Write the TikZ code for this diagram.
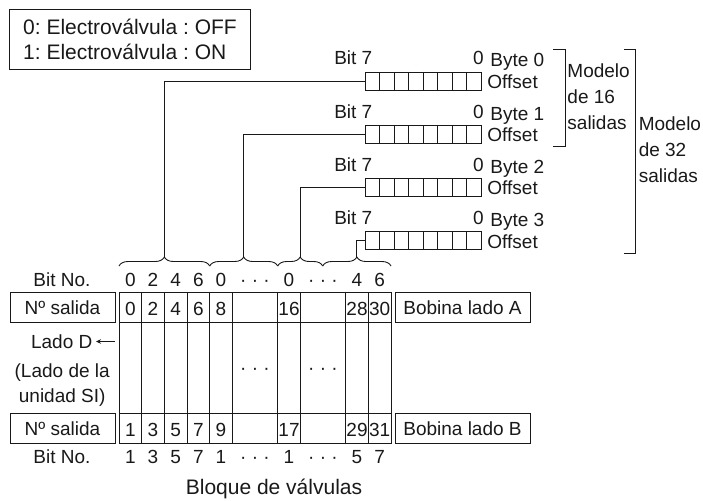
\documentclass[tikz,border=0pt]{standalone}
\usepackage{fontspec}
\setmainfont{Liberation Sans}
\frenchspacing
\usetikzlibrary{arrows.meta, positioning, decorations.pathreplacing}

\begin{document}
\begin{tikzpicture}[x=1pt, y=-1pt, line width=0.9pt, black!90,
  txt/.style={font=\fontsize{19}{22}\selectfont, inner sep=0pt, anchor=base},
  lbox/.style={draw, minimum width=105pt, minimum height=30pt, inner sep=0pt, font=\fontsize{19}{22}\selectfont},
  rbox/.style={draw, minimum width=135pt, minimum height=30pt, inner sep=0pt, font=\fontsize{19}{22}\selectfont},
  reg/.style={draw, minimum width=116pt, minimum height=18pt, inner sep=0pt},
  brc/.style={decorate, decoration={brace, amplitude=9pt}}
]
  \useasboundingbox (0,0) rectangle (703,500);

  % legend
  \node[draw, minimum width=241.4pt, minimum height=60pt, align=left, inner sep=0pt,
    font=\fontsize{21}{25}\selectfont] (legend) at (130,39.3) {0: Electroválvula : OFF\\1: Electroválvula : ON};

  % byte registers
  \foreach \b/\yc in {0/81,1/134.3,2/187.6,3/240.9} {
    \node[reg] (reg\b) at (423,\yc) {};
    \foreach \c in {1,...,7}
      \draw (365+\c*14.5,\yc-9) -- (365+\c*14.5,\yc+9);
    \node[txt] (hi\b) at (353.3,\yc-16) {Bit 7};
    \node[txt] (lo\b) at (478.3,\yc-16) {0};
    \node[txt, anchor=base west] (byte\b) at (490,\yc-14) {Byte \b};
    \node[txt, anchor=base west] (off\b) at (487,\yc+7.3) {Offset};
  }

  % model brackets
  \draw (553,49.3) -- (565,49.3) -- (565,146.7) -- (553,146.7);
  \draw (624,49.3) -- (635,49.3) -- (635,253.3) -- (624,253.3);
  \node[align=left, anchor=north west, inner sep=0pt, font=\fontsize{19}{26.4}\selectfont] (m16) at (567,62.8) {Modelo\\de 16\\salidas};
  \node[align=left, anchor=north west, inner sep=0pt, font=\fontsize{19}{26}\selectfont] (m32) at (638.3,116.3) {Modelo\\de 32\\salidas};

  % braces over the valve block
  \draw[brc] (119,266) -- (209.7,266);
  \draw[brc] (209.7,266) -- (277.7,266);
  \draw[brc] (277.7,266) -- (322.7,266);
  \draw[brc] (322.7,266) -- (391,266);
  \coordinate (tip0) at (164.3,257);
  \coordinate (tip1) at (243.7,257);
  \coordinate (tip2) at (300.2,257);
  \coordinate (tip3) at (356.8,257);
  \foreach \b in {0,...,3}
    \draw (tip\b) |- (reg\b.west);

  % valve block grid
  \draw (119,292.7) rectangle (391,443.3);
  \draw (119,322.7) -- (391,322.7);
  \draw (119,413.3) -- (391,413.3);
  \foreach \k in {1,2,3,4,5,7,8,10,11}
    \draw (119+\k*22.667,292.7) -- (119+\k*22.667,443.3);

  \node[lbox] (salA) at (62.5,307.7) {Nº salida};
  \node[lbox] (salB) at (62.5,428.3) {Nº salida};
  \node[rbox] (bobA) at (462.5,307.7) {Bobina lado A};
  \node[rbox] (bobB) at (462.5,428.3) {Bobina lado B};

  % bit and output numbers
  \node[txt] (bitA) at (62,286.7) {Bit No.};
  \node[txt] (bitB) at (62,463.3) {Bit No.};
  \foreach \k/\t in {0/0,1/2,2/4,3/6,4/0,7/0,10/4,11/6}
    \node[txt] (ta\k) at (130.33+\k*22.667,286.7) {\t};
  \foreach \k/\t in {0/1,1/3,2/5,3/7,4/1,7/1,10/5,11/7}
    \node[txt] (tb\k) at (130.33+\k*22.667,463.3) {\t};
  \foreach \k/\t in {0/0,1/2,2/4,3/6,4/8,7/16,10/28,11/30}
    \node[txt] (na\k) at (130.33+\k*22.667,315) {\t};
  \foreach \k/\t in {0/1,1/3,2/5,3/7,4/9,7/17,10/29,11/31}
    \node[txt] (nb\k) at (130.33+\k*22.667,436) {\t};
  \foreach \x/\n in {255/1,323/2} {
    \node[txt] (da\n) at (\x,286.7) {· · ·};
    \node[txt] (dm\n) at (\x,374.8) {· · ·};
    \node[txt] (db\n) at (\x,463.3) {· · ·};
  }

  % D side
  \node[txt] (ladoD) at (61.7,348.3) {Lado D};
  \node[align=center, anchor=north, inner sep=0pt, font=\fontsize{19}{24.4}\selectfont] (unidad) at (62.2,363.4) {(Lado de la\\unidad SI)};
  \coordinate (dS) at (115,341.5);
  \coordinate (dE) at (96,341.5);
  \draw[-{Stealth[length=5pt, width=4.5pt]}, line width=0.8pt] (dS) -- (dE);

  \node[txt, font=\fontsize{21}{25}\selectfont] (bloque) at (274,494) {Bloque de válvulas};
\end{tikzpicture}
\end{document}
